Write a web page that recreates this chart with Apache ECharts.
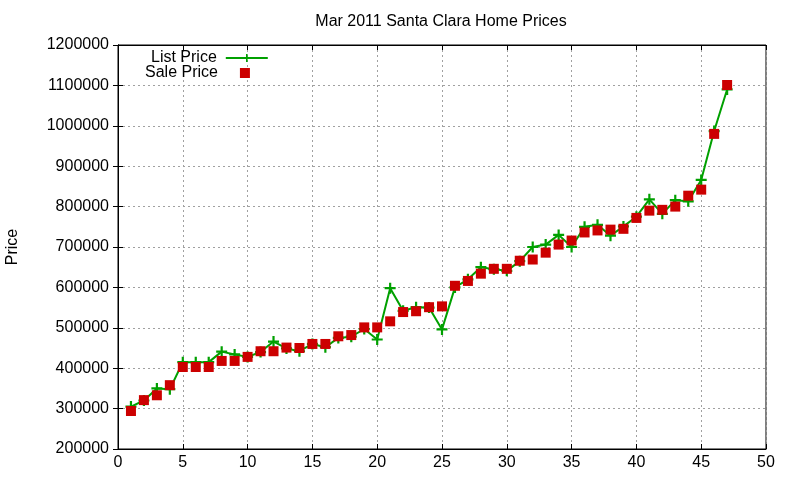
<!DOCTYPE html>
<html>
<head>
<meta charset="utf-8">
<script src="https://cdn.jsdelivr.net/npm/echarts@6/dist/echarts.min.js"></script>
<style>
html,body{margin:0;padding:0;background:#fff;}
#chart{width:800px;height:480px;}
</style>
</head>
<body>
<div id="chart"></div>
<script>
var titleText = 'Mar 2011 Santa Clara Home Prices';
var yName = 'Price';
var seriesNames = ['List Price', 'Sale Price'];
var xValues = [1,2,3,4,5,6,7,8,9,10,11,12,13,14,15,16,17,18,19,20,21,22,23,24,25,26,27,28,29,30,31,32,33,34,35,36,37,38,39,40,41,42,43,44,45,46,47];
var listPrice = [305000,320000,350000,348000,415000,415000,415000,441000,434000,428000,440000,466000,449000,442000,460000,452000,475000,478000,497000,471000,598000,542000,551000,550000,496000,600000,620000,650000,645000,641000,665000,700000,706000,730000,700000,750000,755000,728000,751000,775000,818000,782000,816000,813000,866000,987000,1090000];
var salePrice = [294000,321000,333000,358000,403000,403000,403000,418000,418000,428000,442000,442000,451000,450000,460000,460000,479000,482000,501000,501000,516000,539000,541000,551000,553000,604000,616000,634000,646000,646000,666000,669000,686000,706000,716000,736000,741000,743000,745000,772000,790000,792000,800000,827000,842000,980000,1101000];
var xMin = 0, xMax = 50, xStep = 5;
var yMin = 200000, yMax = 1200000, yStep = 100000;

function pairs(xs, ys){ return xs.map(function(x,i){ return [x, ys[i]]; }); }

var font = 'Liberation Sans, Arial, sans-serif';
var plus = 'path://M4,0L6,0L6,4L10,4L10,6L6,6L6,10L4,10L4,6L0,6L0,4L4,4Z';
var chart = echarts.init(document.getElementById('chart'), null, {renderer:'canvas'});
var tickStyle = {show:true, inside:true, length:5, lineStyle:{color:'#000', width:1}};
var gridLine = {show:true, lineStyle:{color:'#a0a0a0', type:[2,3], width:1}};
chart.setOption({
  animation:false,
  backgroundColor:'#fff',
  title:{text:titleText, left:436, top:9, textAlign:'center',
    textStyle:{fontFamily:font, fontSize:16, fontWeight:'normal', color:'#000'}},
  grid:{left:118, right:34, top:45, bottom:31, show:true, borderColor:'#000', borderWidth:1,
    containLabel:false, outerBoundsMode:'none'},
  legend:[
    {data:[seriesNames[0]], orient:'vertical', align:'right', left:146, top:45, itemWidth:42, itemHeight:10, itemGap:0,
      textStyle:{fontFamily:font, fontSize:16, color:'#000', padding:[0,4,0,0]}},
    {data:[seriesNames[1]], orient:'vertical', align:'right', left:140, top:60, itemWidth:10, itemHeight:10, itemGap:0,
      textStyle:{fontFamily:font, fontSize:16, color:'#000', padding:[0,17,0,0]}}
  ],
  xAxis:[
    {type:'value', min:xMin, max:xMax, interval:xStep,
      axisLine:{show:true, lineStyle:{color:'#000'}}, axisTick:tickStyle,
      axisLabel:{fontFamily:font, fontSize:16, color:'#000', margin:6},
      splitLine:gridLine},
    {type:'value', position:'top', min:xMin, max:xMax, interval:xStep,
      axisLine:{show:true, lineStyle:{color:'#000'}}, axisTick:tickStyle,
      axisLabel:{show:false}, splitLine:{show:false}}
  ],
  yAxis:[
    {type:'value', min:yMin, max:yMax, interval:yStep, name:yName, nameLocation:'middle', nameGap:97, nameRotate:90,
      nameTextStyle:{fontFamily:font, fontSize:16, color:'#000'},
      axisLine:{show:true, lineStyle:{color:'#000'}}, axisTick:tickStyle,
      axisLabel:{fontFamily:font, fontSize:16, color:'#000', margin:9, formatter:function(v){ return String(v); }},
      splitLine:gridLine},
    {type:'value', position:'right', min:yMin, max:yMax, interval:yStep,
      axisLine:{show:true, lineStyle:{color:'#000'}}, axisTick:tickStyle,
      axisLabel:{show:false}, splitLine:{show:false}}
  ],
  series:[
    {name:seriesNames[0], type:'line', data:pairs(xValues, listPrice), symbol:plus, symbolSize:11,
      showAllSymbol:true, lineStyle:{color:'#00a000', width:2}, itemStyle:{color:'#00a000'}, z:2},
    {name:seriesNames[1], type:'scatter', data:pairs(xValues, salePrice), symbol:'rect', symbolSize:10,
      itemStyle:{color:'#cc0000', opacity:1}, z:3}
  ]
});
</script>
</body>
</html>
